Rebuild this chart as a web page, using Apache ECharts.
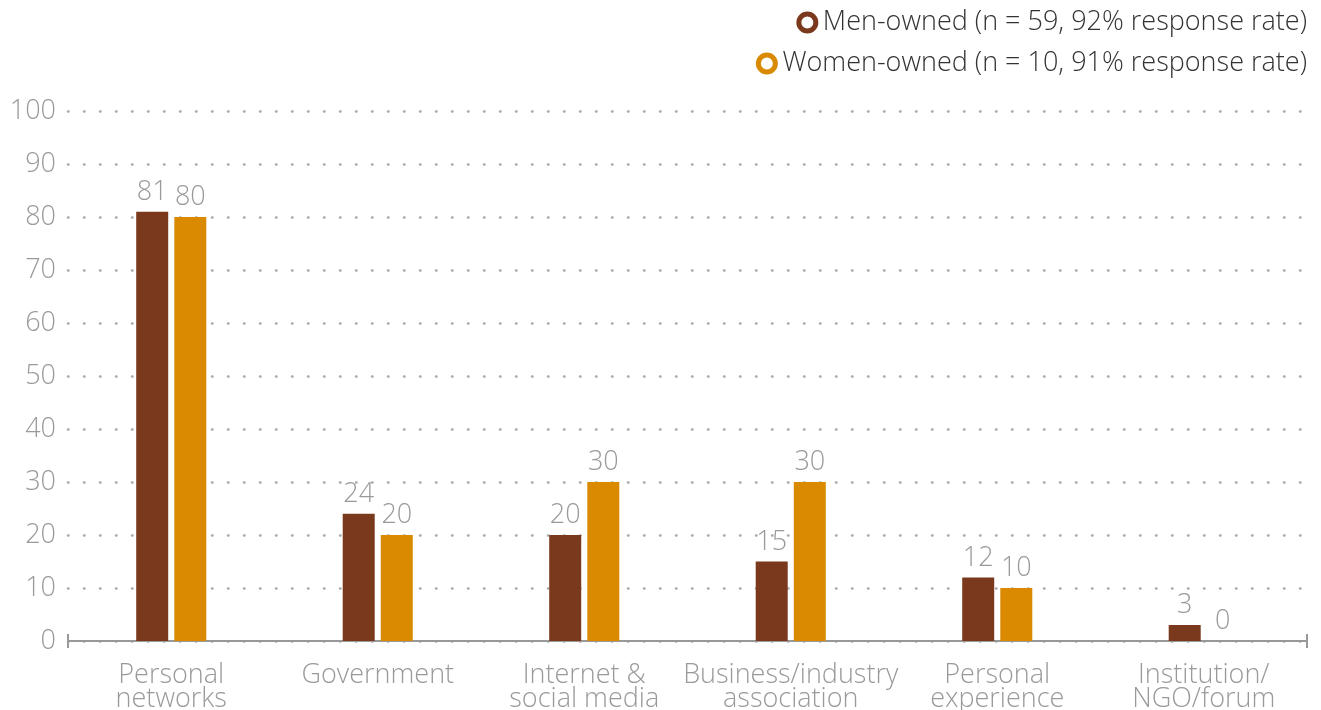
<!DOCTYPE html>
<html>
<head>
<meta charset="utf-8">
<script src="https://cdn.jsdelivr.net/npm/echarts@6/dist/echarts.min.js"></script>
<style>
  html, body { margin: 0; padding: 0; background: #fff; }
  #main { width: 1321px; height: 710px; }
</style>
</head>
<body>
<div id="main"></div>
<script>
var categories = ['Personal\nnetworks', 'Government', 'Internet &\nsocial media', 'Business/industry\nassociation', 'Personal\nexperience', 'Institution/\nNGO/forum'];
var menOwned = [81, 24, 20, 15, 12, 3];
var womenOwned = [80, 20, 30, 30, 10, 0];
var seriesNames = ['Men-owned (n = 59, 92% response rate)', 'Women-owned (n = 10, 91% response rate)'];

var myChart = echarts.init(document.getElementById('main'));
var fontName = 'Open Sans';
var grey = '#9a9a9a';
var menColor = '#7a381c';
var womenColor = '#d98a00';

var labelStyle = {
    show: true,
    position: 'top',
    distance: 6,
    color: grey,
    fontFamily: fontName,
    fontWeight: 300,
    fontSize: 27
};

// 图例：每行右对齐
var legendBase = function (name, color, top) {
    return {
        right: 14,
        top: top,
        padding: 0,
        itemWidth: 17,
        itemHeight: 17,
        icon: 'circle',
        textStyle: { color: '#333', fontSize: 27, fontWeight: 300, fontFamily: fontName, padding: [0, 0, 0, 2] },
        data: [{ name: name, itemStyle: { color: '#fff', borderColor: color, borderWidth: 5 } }]
    };
};

var option = {
    animation: false,
    textStyle: { fontFamily: fontName },
    legend: [
        legendBase(seriesNames[0], menColor, 9),
        legendBase(seriesNames[1], womenColor, 50)
    ],
    grid: {
        left: 68,
        right: 14,
        top: 111,
        bottom: 69,
        outerBoundsMode: 'none'
    },
    xAxis: {
        type: 'category',
        data: categories,
        axisLine: {
            lineStyle: { color: '#999', width: 2 },
            symbol: ['rect', 'rect'],
            symbolSize: [14, 2]
        },
        axisTick: { show: false },
        axisLabel: {
            interval: 0,
            color: grey,
            fontSize: 27,
            fontWeight: 300,
            lineHeight: 24,
            margin: 22,
            fontFamily: fontName
        }
    },
    yAxis: {
        type: 'value',
        min: 0,
        max: 100,
        interval: 10,
        axisLine: { show: false },
        axisTick: { show: false },
        axisLabel: {
            color: grey,
            fontSize: 27,
            fontWeight: 300,
            margin: 12,
            fontFamily: fontName
        },
        splitLine: {
            lineStyle: { color: '#aaa', width: 2.5, type: [0.5, 15.5], cap: 'round' }
        }
    },
    series: [
        {
            name: seriesNames[0],
            type: 'bar',
            barWidth: 32,
            barGap: '19%',
            itemStyle: { color: menColor },
            label: labelStyle,
            data: menOwned
        },
        {
            name: seriesNames[1],
            type: 'bar',
            barWidth: 32,
            itemStyle: { color: womenColor },
            label: labelStyle,
            data: womenOwned
        }
    ]
};
myChart.setOption(option);
</script>
</body>
</html>
